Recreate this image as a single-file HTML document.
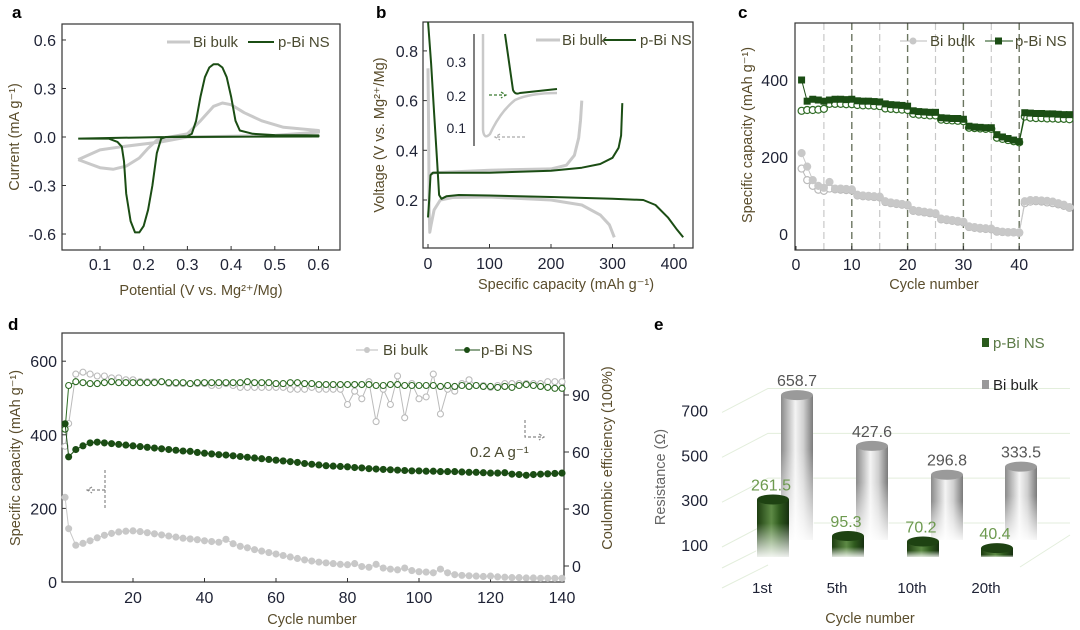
<!DOCTYPE html>
<html><head><meta charset="utf-8">
<style>
html,body{margin:0;padding:0;background:#fff;}
svg{display:block;font-family:"Liberation Sans",Arial,sans-serif;}
.tk{font-size:16px;fill:#1e2235;}
.tt{font-size:14.5px;fill:#5a4d2c;}
.pl{font-size:17px;font-weight:bold;fill:#000;}
.lg{font-size:15px;fill:#4a4a30;}
</style></head>
<body>
<svg id="fig" width="1080" height="630" viewBox="0 0 1080 630">
<defs>
<linearGradient id="gGray" x1="0" x2="1" y1="0" y2="0">
<stop offset="0" stop-color="#8a8a8a"/><stop offset="0.45" stop-color="#f4f4f4"/><stop offset="0.7" stop-color="#d0d0d0"/><stop offset="1" stop-color="#7a7a7a"/></linearGradient>
<linearGradient id="gGreen" x1="0" x2="1" y1="0" y2="0">
<stop offset="0" stop-color="#1d3d10"/><stop offset="0.45" stop-color="#5d8a45"/><stop offset="0.7" stop-color="#2f5a1e"/><stop offset="1" stop-color="#173010"/></linearGradient>
<linearGradient id="fade" x1="0" x2="0" y1="0" y2="1">
<stop offset="0.35" stop-color="#fff" stop-opacity="0"/><stop offset="1" stop-color="#fff" stop-opacity="0.95"/></linearGradient>
</defs>
</svg>
<script>
// ---------- Panel a data ----------
const cvNsV=[0.05,0.15,0.25,0.30,0.31,0.32,0.33,0.34,0.35,0.36,0.37,0.38,0.39,0.40,0.41,0.42,0.45,0.5,0.6,0.6,0.4,0.3,0.25,0.24,0.23,0.22,0.21,0.20,0.19,0.18,0.17,0.16,0.155,0.15,0.14,0.12,0.05];
const cvNsI=[-0.01,-0.005,0,0.005,0.02,0.1,0.25,0.37,0.43,0.45,0.45,0.43,0.37,0.25,0.1,0.04,0.02,0.012,0.01,0.003,0.002,0,0,-0.01,-0.1,-0.3,-0.45,-0.55,-0.59,-0.59,-0.52,-0.35,-0.15,-0.06,-0.03,-0.01,-0.01];
const cvBulkV=[0.05,0.08,0.1,0.13,0.16,0.19,0.21,0.23,0.26,0.3,0.33,0.36,0.38,0.40,0.43,0.47,0.52,0.6,0.6,0.5,0.4,0.3,0.24,0.15,0.1,0.05];
const cvBulkI=[-0.14,-0.17,-0.19,-0.2,-0.18,-0.13,-0.07,-0.02,0,0.02,0.1,0.19,0.21,0.2,0.15,0.1,0.06,0.04,0.03,0.01,0.005,0,-0.03,-0.06,-0.08,-0.14];
const aXTicks=[0.1,0.2,0.3,0.4,0.5,0.6];
const aYTicks=[0.6,0.3,0.0,-0.3,-0.6];
// ---------- Panel b data ----------
const bNsDisC=[0,5,10,15,18,22,30,50,100,200,300,350,370,390,405,415];
const bNsDisV=[0.92,0.75,0.55,0.35,0.22,0.205,0.215,0.22,0.218,0.212,0.205,0.2,0.18,0.13,0.08,0.05];
const bNsChC=[0,2,4,8,100,200,250,280,300,310,314,316];
const bNsChV=[0.13,0.2,0.3,0.31,0.31,0.318,0.33,0.345,0.37,0.41,0.46,0.59];
const bBulkDisC=[0,1,2,3,5,10,20,40,100,200,250,280,295,303];
const bBulkDisV=[0.73,0.5,0.15,0.07,0.1,0.16,0.2,0.21,0.212,0.2,0.18,0.14,0.1,0.05];
const bBulkChC=[0,10,100,200,225,238,245,248,250];
const bBulkChV=[0.3,0.31,0.32,0.325,0.34,0.38,0.45,0.52,0.6];
const bXTicks=[0,100,200,300,400];
const bYTicks=[0.2,0.4,0.6,0.8];
// ---------- Panel c data ----------
const cNsFill=[400,345,350,348,345,348,350,350,349,350,346,345,345,344,343,338,336,335,334,332,320,318,317,316,316,302,301,300,300,298,280,278,277,276,276,258,252,248,244,240,315,314,313,313,312,312,311,310,310];
const cNsOpen=[320,322,322,323,325,338,338,338,337,337,335,334,334,333,332,326,325,324,323,322,312,310,309,308,308,297,296,295,294,293,276,275,274,273,273,250,247,244,241,238,305,302,301,301,300,300,299,299,298];
const cBulkFill=[210,175,140,125,120,135,118,118,117,116,102,100,99,98,97,85,82,80,78,76,62,60,58,56,54,40,38,36,34,32,20,18,16,15,14,8,6,5,5,4,85,88,88,87,86,84,80,76,70];
const cBulkOpen=[170,140,125,115,112,118,116,115,114,113,100,98,97,96,95,83,80,78,76,74,60,58,56,54,52,38,36,34,32,30,18,16,14,13,12,6,5,4,4,3,80,84,85,84,82,80,77,73,68];
const cXTicks=[0,10,20,30,40];
const cYTicks=[0,200,400];
const cMinorLines=[5,15,25,35];
const cMajorLines=[10,20,30,40];
// ---------- Panel d data ----------
const dCap=[430,340,360,370,378,380,378,376,374,372,370,368,366,364,362,360,358,356,355,352,350,348,346,345,343,341,339,337,335,333,331,329,327,325,322,320,318,316,315,314,313,311,310,308,307,306,305,304,303,302,302,301,301,300,300,300,299,298,298,297,296,296,297,293,292,290,292,293,294,295,296];
const dBulkCap=[230,145,100,105,112,120,127,132,136,138,139,137,134,131,128,125,122,119,117,115,112,110,108,116,104,97,93,88,84,80,76,72,68,64,60,57,54,52,50,48,47,50,42,40,48,38,35,33,38,31,28,27,25,35,25,20,18,17,16,15,16,14,13,12,12,11,11,10,10,10,10];
const dNsCE=[72,95,97,96.5,96,96,96.5,97,96.5,96.5,96.5,96.5,96.5,96.5,97,96.5,96.5,96.5,96,96.5,96.5,96.5,96.5,96.5,96.5,96.5,97,96.5,96.5,96.5,96,96,96.5,96.5,96,96,95.5,95.5,95.5,95.5,95.5,95.5,95.5,95.5,95,95,95.5,95.5,95,95,95,95,95,94.5,95,94.5,95,94.5,95,94.5,94.5,94,94.5,94,95,95.5,95,94.5,94,93.5,93.5];
const dBulkCE=[63,75,101,102,101,100,100,99,99,98,98,97,97,97,97,96,96,96,96,96,96,95,95,96,95,94,94,94,94,94,94,94,93,93,93,94,93,93,93,93,85,92,88,97,76,93,85,100,78,96,88,89,101,80,93,92,96,98,95,95,94,95,96,96,96,96,96,96,97,97,97];
const dXTicks=[20,40,60,80,100,120,140];
const dYTicks=[0,200,400,600];
const dY2Ticks=[0,30,60,90];
// ---------- Panel e data ----------
const eCats=["1st","5th","10th","20th"];
const eNs=[261.5,95.3,70.2,40.4];
const eBulk=[658.7,427.6,296.8,333.5];
const eYTicks=[100,300,500,700];

const svg=document.getElementById('fig');
const NS='http://www.w3.org/2000/svg';
function mk(tag,attrs,parent){const e=document.createElementNS(NS,tag);for(const k in attrs)e.setAttribute(k,attrs[k]);(parent||svg).appendChild(e);return e;}
function txt(x,y,s,cls,anchor,parent){const t=mk('text',{x:x,y:y,class:cls,'text-anchor':anchor||'middle'},parent);t.textContent=s;return t;}
function poly(xs,ys,fx,fy,col,w){let d='';for(let i=0;i<Math.min(xs.length,ys.length);i++){d+=(i?'L':'M')+fx(xs[i]).toFixed(1)+','+fy(ys[i]).toFixed(1);}return mk('path',{d:d,fill:'none',stroke:col,'stroke-width':w,'stroke-linejoin':'round'});}
const GREEN='#1b4d14',GRAY='#c9c9c9';

// ===== Panel a =====
{
const ax=v=>100+(v-0.1)*437, ay=i=>137-i*161.7;
let t=txt(12,18,'a','pl','start');
let f=mk('rect',{x:62,y:24,width:278,height:226,fill:'none',stroke:'#333','stroke-width':1.2});

for(const v of aXTicks){let l=mk('line',{x1:ax(v),x2:ax(v),y1:250,y2:246,stroke:'#333'});
let tt=txt(ax(v),270,v.toFixed(1),'tk');}
for(const v of aYTicks){let l=mk('line',{x1:62,x2:66,y1:ay(v),y2:ay(v),stroke:'#333'});
let tt=txt(56,ay(v)+6,v.toFixed(1),'tk','end');}
let p1=poly(cvBulkV,cvBulkI,ax,ay,GRAY,3);
let p2=poly(cvNsV,cvNsI,ax,ay,GREEN,2);
let l1=mk('line',{x1:167,x2:190,y1:42,y2:42,stroke:GRAY,'stroke-width':3});
let t1=txt(193,47,'Bi bulk','lg','start');
let l2=mk('line',{x1:248,x2:274,y1:42,y2:42,stroke:GREEN,'stroke-width':2});
let t2=txt(278,47,'p-Bi NS','lg','start');
let xt=txt(201,295,'Potential (V vs. Mg²⁺/Mg)','tt');
let yt=txt(0,0,'Current (mA g⁻¹)','tt');yt.setAttribute('transform','translate(19,137) rotate(-90)');
}
// ===== Panel b =====
{
const bx=c=>428+c*0.615, by=v=>200-(v-0.2)*248.5;
let t=txt(376,18,'b','pl','start');
let g=mk('g',{'clip-path':'none'});
let f=mk('rect',{x:423,y:22,width:270,height:226,fill:'none',stroke:'#333','stroke-width':1.2});
for(const v of bXTicks){let l=mk('line',{x1:bx(v),x2:bx(v),y1:248,y2:244,stroke:'#333'});
let tt=txt(bx(v),269,String(v),'tk');}
for(const v of bYTicks){let l=mk('line',{x1:423,x2:427,y1:by(v),y2:by(v),stroke:'#333'});
let tt=txt(418,by(v)+6,v.toFixed(1),'tk','end');}
const cl=mk('clipPath',{id:'clipB'});mk('rect',{x:423,y:22,width:270,height:226},cl);
const gg=mk('g',{'clip-path':'url(#clipB)'});
for(const [xs,ys,c,w,n] of [[bBulkDisC,bBulkDisV,GRAY,3,'b-bulk-discharge'],[bBulkChC,bBulkChV,GRAY,3,'b-bulk-charge'],[bNsDisC,bNsDisV,GREEN,2,'b-ns-discharge'],[bNsChC,bNsChV,GREEN,2,'b-ns-charge']]){
let p=poly(xs,ys,bx,by,c,w);gg.appendChild(p);}
// inset
let ia=mk('line',{x1:474,x2:474,y1:34,y2:146,stroke:'#555','stroke-width':1.5});
for(const [v,y] of [['0.3',67],['0.2',101],['0.1',133]]){let tt=txt(466,y,v,'tk','end');tt.style.fontSize='14px';}
let ig=mk('path',{d:'M483,34 L483,130 Q484,140 490,134 Q500,112 515,100 Q530,93 557,93',fill:'none',stroke:GRAY,'stroke-width':2.5});
let in2=mk('path',{d:'M505,34 L513,90 Q515,95 520,93 L557,89',fill:'none',stroke:GREEN,'stroke-width':2});
let ar1=mk('path',{d:'M489,95 L505,95 M501,92 L506,95 L501,98',fill:'none',stroke:'#3a7a30','stroke-width':1.3,'stroke-dasharray':'3,2'});
let ar2=mk('path',{d:'M525,137 L496,137 M500,134 L495,137 L500,140',fill:'none',stroke:'#aaa','stroke-width':1.3,'stroke-dasharray':'3,2'});
let l1=mk('line',{x1:536,x2:560,y1:40,y2:40,stroke:GRAY,'stroke-width':3});
let t1=txt(562,45,'Bi bulk','lg','start');
let l2=mk('line',{x1:604,x2:636,y1:40,y2:40,stroke:GREEN,'stroke-width':2});
let t2=txt(640,45,'p-Bi NS','lg','start');
let xt=txt(566,289,'Specific capacity (mAh g⁻¹)','tt');
let yt=txt(0,0,'Voltage (V vs. Mg²⁺/Mg)','tt');yt.setAttribute('transform','translate(384,135) rotate(-90)');
}
// ===== Panel c =====
{
const cx=n=>796+n*5.58, cy=v=>234-v*0.385;
let t=txt(738,18,'c','pl','start');
for(const n of cMinorLines){let l=mk('line',{x1:cx(n),x2:cx(n),y1:23,y2:250,stroke:'#c8c8c8','stroke-width':1.2,'stroke-dasharray':'7,4'});}
for(const n of cMajorLines){let l=mk('line',{x1:cx(n),x2:cx(n),y1:23,y2:250,stroke:'#6b7560','stroke-width':1.4,'stroke-dasharray':'7,4'});}
let f=mk('rect',{x:795,y:23,width:278,height:227,fill:'none',stroke:'#333','stroke-width':1.2});
for(const v of cXTicks){let l=mk('line',{x1:cx(v),x2:cx(v),y1:250,y2:246,stroke:'#333'});
let tt=txt(cx(v),270,String(v),'tk');}
for(const v of cYTicks){let tt=txt(788,cy(v)+6,String(v),'tk','end');}
const series=[[cBulkOpen,'#bbb',false,'circle','c-bulk-discharge'],[cBulkFill,'#c8c8c8',true,'circle','c-bulk-charge'],[cNsOpen,'#2e6b24',false,'circle','c-ns-discharge'],[cNsFill,GREEN,true,'square','c-ns-charge']];
for(const [vals,col,filled,shape,name] of series){
const idx=vals.map((_,i)=>i+1);
let p=poly(idx,vals,cx,cy,col,1);
vals.forEach((v,i)=>{let m;
if(shape==='square'){m=mk('rect',{x:cx(i+1)-3.5,y:cy(v)-3.5,width:7,height:7,fill:col});}
else{m=mk('circle',{cx:cx(i+1),cy:cy(v),r:3.5,fill:filled?col:'#fff',stroke:col,'stroke-width':1.2});}

});
}
let l1=mk('line',{x1:900,x2:927,y1:41,y2:41,stroke:'#bbb'});
let c1=mk('circle',{cx:913,cy:41,r:3.5,fill:'#c8c8c8'});
let t1=txt(930,46,'Bi bulk','lg','start');
let l2=mk('line',{x1:985,x2:1013,y1:41,y2:41,stroke:GREEN});
let s2=mk('rect',{x:995,y:37.5,width:7,height:7,fill:GREEN});
let t2=txt(1015,46,'p-Bi NS','lg','start');
let xt=txt(934,289,'Cycle number','tt');
let yt=txt(0,0,'Specific capacity (mAh g⁻¹)','tt');yt.setAttribute('transform','translate(752,135) rotate(-90)');
}
// ===== Panel d =====
{
const dCycles=[1];for(let c=2;c<=140;c+=2)dCycles.push(c);
const dx=n=>61.5+n*3.575, dy=v=>582-v*0.368, dy2=v=>566-v*1.9;
let t=txt(8,330,'d','pl','start');
let f=mk('rect',{x:62,y:333,width:502,height:249,fill:'none',stroke:'#333','stroke-width':1.2});
for(const v of dXTicks){let l=mk('line',{x1:dx(v),x2:dx(v),y1:582,y2:578,stroke:'#333'});
let tt=txt(dx(v),603,String(v),'tk');}
for(const v of dYTicks){let l=mk('line',{x1:62,x2:66,y1:dy(v),y2:dy(v),stroke:'#333'});
let tt=txt(57,dy(v)+6,String(v),'tk','end');}
for(const v of dY2Ticks){let l=mk('line',{x1:564,x2:569,y1:dy2(v),y2:dy2(v),stroke:'#333'});
let tt=txt(572,dy2(v)+6,String(v),'tk','start');}
const n=dCycles.length;
const ds=[[dBulkCE,dy2,'#bbb',false,'d-bulk-ce'],[dNsCE,dy2,'#2e6b24',false,'d-ns-ce'],[dBulkCap,dy,'#c8c8c8',true,'d-bulk-capacity'],[dCap,dy,GREEN,true,'d-ns-capacity']];
for(const [vals,fy,col,filled,name] of ds){
let p=poly(dCycles,vals,dx,fy,col,1);
for(let i=0;i<Math.min(n,vals.length);i++){
let m=mk('circle',{cx:dx(dCycles[i]),cy:fy(vals[i]),r:3,fill:filled?col:'#fff',stroke:col,'stroke-width':1.1});

}
}
let a1=mk('path',{d:'M105,470 L105,508 M105,490 L88,490 M92,487 L87,490 L92,493',fill:'none',stroke:'#888','stroke-width':1.2,'stroke-dasharray':'3,2'});
let a2=mk('path',{d:'M525,420 L525,437 L543,437 M539,434 L544,437 L539,440',fill:'none',stroke:'#888','stroke-width':1.2,'stroke-dasharray':'3,2'});
let rt=txt(470,457,'0.2 A g⁻¹','lg','start');rt.style.fontSize='15px';
let l1=mk('line',{x1:356,x2:378,y1:350,y2:350,stroke:'#bbb'});
let c1=mk('circle',{cx:367,cy:350,r:3,fill:'#c8c8c8'});
let t1=txt(383,355,'Bi bulk','lg','start');
let l2=mk('line',{x1:455,x2:480,y1:350,y2:350,stroke:GREEN});
let c2=mk('circle',{cx:467,cy:350,r:3,fill:GREEN});
let t2=txt(481,355,'p-Bi NS','lg','start');
let xt=txt(312,624,'Cycle number','tt');
let yt=txt(0,0,'Specific capacity (mAh g⁻¹)','tt');yt.setAttribute('transform','translate(20,458) rotate(-90)');
let yt2=txt(0,0,'Coulombic efficiency (100%)','tt');yt2.setAttribute('transform','translate(612,458) rotate(-90)');
}
// ===== Panel e =====
{
const eyTick=v=>545-(v-100)*0.2242;
const hScale=0.22;
const catX=[773,848,923,997];
let t=txt(654,330,'e','pl','start');
for(const v of eYTicks){const y=eyTick(v);
let g=mk('path',{d:`M722,${y+2} L768,${y-22} L1070,${y-22}`,fill:'none',stroke:'#e3eedc','stroke-width':1});
let tt=txt(708,y+6,String(v),'tk','end');}
let fl=mk('path',{d:'M722,568 L768,545 M722,588 L768,565 M1020,567 L1070,535',fill:'none',stroke:'#e3eedc'});
function cyl(cxp,base,h,fill,topCol,name){
const w=32,top=base-h;
let g=mk('g',{});
mk('rect',{x:cxp-w/2,y:top,width:w,height:h,fill:fill},g);
mk('ellipse',{cx:cxp,cy:top,rx:w/2,ry:5,fill:topCol},g);
mk('rect',{x:cxp-w/2-1,y:top+5,width:w+2,height:h-4,fill:'url(#fade)'},g);
return top;}
eCats.forEach((c,i)=>{
const gx=catX[i]+24;
const tb=cyl(gx,540,eBulk[i]*hScale,'url(#gGray)','#9a9a9a','e-bar-bulk-'+c);
let tb2=txt(gx,tb-9,eBulk[i].toFixed(1),'tk');tb2.style.fill='#555';
const tn=cyl(catX[i],557,eNs[i]*hScale,'url(#gGreen)','#1e4212','e-bar-ns-'+c);
let tn2=txt(catX[i]-2,tn-9,eNs[i].toFixed(1),'tk');tn2.style.fill='#6d9a4f';
let cl=txt(catX[i]-11,593,c,'tk');cl.style.fontSize='15px';
});
let s1=mk('rect',{x:982,y:338,width:7,height:9,fill:'#2a5a1c'});
let t1=txt(993,348,'p-Bi NS','lg','start');t1.style.fill='#5b7a46';
let s2=mk('rect',{x:982,y:380,width:7,height:9,fill:'#999'});
let t2=txt(993,390,'Bi bulk','lg','start');t2.style.fill='#222';
let xt=txt(870,623,'Cycle number','tt');
let yt=txt(0,0,'Resistance (Ω)','tt');yt.style.fill='#666';yt.setAttribute('transform','translate(665,477) rotate(-90)');
}
</script>
</body></html>
